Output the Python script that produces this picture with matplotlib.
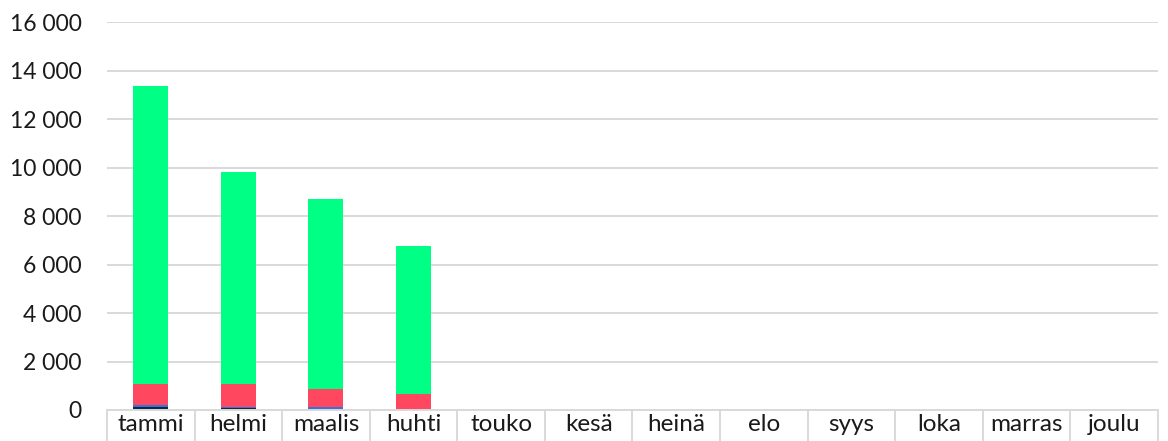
import numpy as np
import matplotlib
matplotlib.use("Agg")
import matplotlib.pyplot as plt
from matplotlib.ticker import FuncFormatter, FixedLocator

# kuukaudet
kuukaudet = ["tammi", "helmi", "maalis", "huhti", "touko", "kesä",
             "heinä", "elo", "syys", "loka", "marras", "joulu"]

# sarjat (alhaalta ylös), vain neljä ensimmäistä kuukautta
tumma = [120, 70, 40, 0]
sininen = [80, 70, 80, 10]
punainen = [880, 935, 750, 650]
vihrea = [12290, 8745, 7830, 6090]

varit = ["#0b2a45", "#3d6fd6", "#ff4760", "#00ff85"]
sarjat = [tumma, sininen, punainen, vihrea]

plt.rcParams['font.family'] = ['Lato', 'DejaVu Sans']

fig = plt.figure(figsize=(11.68, 4.41), dpi=100)
ax = fig.add_axes([0.0916, 0.0703, 0.8998, 0.8797])

x = np.arange(len(vihrea))
pohja = np.zeros(len(vihrea))
for arvot, vari in zip(sarjat, varit):
    ax.bar(x, arvot, width=0.4, bottom=pohja, color=vari, zorder=3)
    pohja = pohja + np.array(arvot)

ax.set_xlim(-0.5, len(kuukaudet) - 0.5)
ax.set_ylim(0, 16000)
ax.set_yticks(np.arange(0, 16001, 2000))
ax.yaxis.set_major_formatter(FuncFormatter(lambda v, p: "{:,}".format(int(v)).replace(",", " ")))
ax.grid(axis="y", color="#d9d9d9", linewidth=1.4, zorder=0)

ax.set_xticks(np.arange(len(kuukaudet)))
ax.set_xticklabels(kuukaudet)
ax.xaxis.set_minor_locator(FixedLocator(np.arange(-0.5, len(kuukaudet), 1)))
ax.tick_params(axis="x", which="major", length=0, pad=3, labelsize=17.5, labelcolor="#1a1a1a")
ax.tick_params(axis="x", which="minor", length=23, width=1.4, color="#d9d9d9")
ax.tick_params(axis="y", length=0, pad=18, labelsize=16.5, labelcolor="#1a1a1a")

for s in ["top", "right", "left"]:
    ax.spines[s].set_visible(False)
ax.spines["bottom"].set_color("#d9d9d9")
ax.spines["bottom"].set_linewidth(1.4)
ax.spines["bottom"].set_zorder(4)

fig.savefig("out.png", dpi=100)
